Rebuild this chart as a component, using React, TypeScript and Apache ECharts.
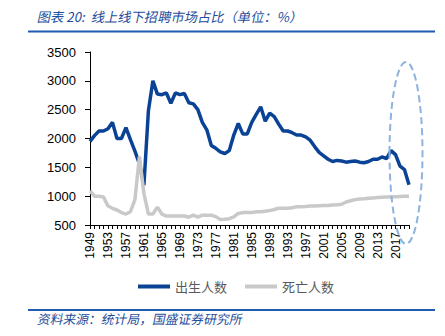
import React, { useEffect, useRef } from "react";
import * as echarts from "echarts";

const years: string[] = [];
for (let y = 1949; y <= 2020; y++) years.push(String(y));

const births = [
  1950, 2050, 2130, 2130, 2170, 2280, 2000, 2000, 2190, 1980,
  1780, 1560, 1190, 2480, 3000, 2770, 2760, 2790, 2610, 2790,
  2760, 2780, 2620, 2600, 2500, 2280, 2150, 1880, 1830, 1770,
  1740, 1790, 2060, 2260, 2080, 2080, 2280, 2420, 2550, 2300,
  2440, 2380, 2250, 2130, 2130, 2100, 2060, 2060, 2030, 1970,
  1860, 1760, 1700, 1640, 1600, 1620, 1610, 1590, 1600, 1610,
  1590, 1580, 1600, 1640, 1640, 1680, 1650, 1790, 1720, 1520,
  1460, 1200,
];

const deaths = [
  1090, 1000, 1000, 985, 830, 790, 760, 715, 690, 730,
  940, 1690, 1050, 690, 690, 810, 690, 655, 655, 655,
  655, 655, 635, 670, 635, 670, 670, 670, 645, 595,
  600, 610, 640, 700, 715, 715, 715, 730, 730, 740,
  750, 770, 790, 790, 790, 800, 815, 815, 820, 830,
  830, 835, 840, 840, 845, 850, 860, 900, 920, 940,
  950, 955, 965, 970, 975, 980, 985, 985, 990, 995,
  1000, 1000,
];

const seriesNames = ["出生人数", "死亡人数"];
const title = "图表 20:  线上线下招聘市场占比（单位：%）";
const source = "资料来源：统计局，国盛证券研究所";

export default function App() {
  const ref = useRef<HTMLDivElement>(null);
  useEffect(() => {
    document.body.style.margin = "0";
    if (!ref.current) return;
    const chart = echarts.init(ref.current, null, { renderer: "svg" });
    const cjk = "'Noto Sans CJK SC', sans-serif";
    chart.setOption({
      animation: false,
      backgroundColor: "#ffffff",
      grid: { left: 90, right: 36, top: 52, bottom: 111, containLabel: false },
      legend: {
        left: 133,
        top: 275,
        itemWidth: 32,
        itemHeight: 4,
        itemGap: 18,
        icon: "rect",
        textStyle: { fontFamily: cjk, fontSize: 13, color: "#595959", padding: [0, 0, 0, 0] },
        data: seriesNames,
      },
      xAxis: {
        type: "category",
        data: years,
        boundaryGap: false,
        axisLine: { lineStyle: { color: "#000000", width: 1 } },
        axisTick: { show: true, interval: 0, length: 4, lineStyle: { color: "#000000" } },
        axisLabel: {
          interval: 3,
          rotate: 90,
          margin: 7,
          fontSize: 12,
          color: "#000000",
          fontFamily: "'Liberation Sans', Arial, sans-serif",
        },
        splitLine: { show: false },
      },
      yAxis: {
        type: "value",
        min: 500,
        max: 3500,
        interval: 500,
        axisLine: { show: true, lineStyle: { color: "#000000", width: 1 } },
        axisTick: { show: true, length: 5, lineStyle: { color: "#000000" } },
        axisLabel: {
          margin: 14,
          fontSize: 13,
          color: "#000000",
          fontFamily: "'Liberation Sans', Arial, sans-serif",
          formatter: (v: number) => String(v),
        },
        splitLine: { show: false },
      },
      series: [
        {
          name: seriesNames[0],
          type: "line",
          data: births,
          symbol: "none",
          lineStyle: { color: "#0a4396", width: 3.5 },
          itemStyle: { color: "#0a4396" },
        },
        {
          name: seriesNames[1],
          type: "line",
          data: deaths,
          symbol: "none",
          lineStyle: { color: "#c9c9c9", width: 3.5 },
          itemStyle: { color: "#c9c9c9" },
        },
      ],
      graphic: [
        {
          type: "text",
          x: 38,
          y: 16,
          style: {
            text: title,
            fontFamily: cjk,
            fontSize: 13.3,
            fill: "#1f4e9c",
            verticalAlign: "middle",
          },
        },
        {
          type: "line",
          shape: { x1: 28, y1: 31.5, x2: 435, y2: 31.5 },
          style: { stroke: "#1f5bb0", lineWidth: 2 },
        },
        {
          type: "line",
          shape: { x1: 28, y1: 310, x2: 435, y2: 310 },
          style: { stroke: "#1f5bb0", lineWidth: 2 },
        },
        {
          type: "text",
          x: 38,
          y: 319,
          style: {
            text: source,
            fontFamily: cjk,
            fontSize: 12.8,
            fill: "#1f4e9c",
            verticalAlign: "middle",
          },
        },
        {
          type: "ellipse",
          shape: { cx: 406, cy: 153, rx: 16.5, ry: 91 },
          style: { fill: "none", stroke: "#8db3df", lineWidth: 2, lineDash: [7, 4] },
          z: 10,
        },
      ],
    });
    // slant the title and source texts (italic look)
    const texts = ref.current.querySelectorAll("text");
    texts.forEach((t) => {
      const s = t.textContent || "";
      if (s === title || s === source) {
        const tr = t.getAttribute("transform") || "";
        t.setAttribute("transform", tr + " skewX(-12)");
      }
    });
    return () => chart.dispose();
  }, []);
  return <div ref={ref} style={{ width: 445, height: 336 }} />;
}
